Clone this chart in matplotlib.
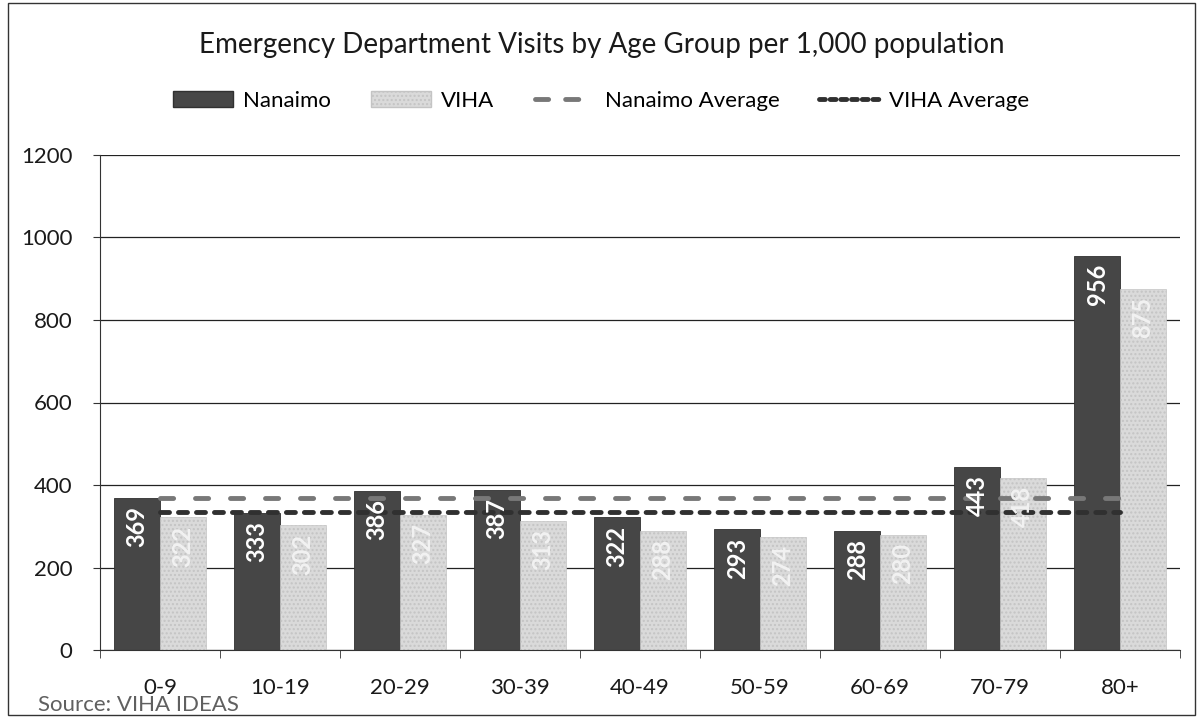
import numpy as np
import matplotlib
matplotlib.use("Agg")
import matplotlib.pyplot as plt
from matplotlib.patches import Rectangle, Patch
from matplotlib.lines import Line2D

plt.rcParams['font.family'] = ['Lato', 'DejaVu Sans']

# --- data ---
age_groups = ["0-9", "10-19", "20-29", "30-39", "40-49", "50-59", "60-69", "70-79", "80+"]
nanaimo = [369, 333, 386, 387, 322, 293, 288, 443, 956]
viha = [322, 302, 327, 313, 288, 274, 280, 418, 875]
nanaimo_avg = 368
viha_avg = 335

fig = plt.figure(figsize=(12.03, 7.17), dpi=100)
ax = fig.add_axes([100 / 1203, 67 / 717, 1080 / 1203, 495 / 717])

x = np.arange(len(age_groups))
w = 0.38
off = 0.19
ax.bar(x - off, nanaimo, width=w, color="#464646", edgecolor="#303030",
       linewidth=0.6, zorder=2)
ax.bar(x + off, viha, width=w, color="#dadada", edgecolor="#c4c4c4",
       linewidth=0.5, hatch="....", zorder=2)

# averages drawn across the categories
ax.hlines(nanaimo_avg, x[0], x[-1], colors="#787878", linewidth=3.5,
          linestyles=(0, (2.7, 4.5)), capstyle="round", zorder=3)
ax.hlines(viha_avg, x[0], x[-1], colors="#303030", linewidth=3.5,
          linestyles=(0, (1.85, 1.85)), capstyle="round", zorder=3)

# value labels
for xi, v in zip(x, nanaimo):
    ax.text(xi - off, v - 20, str(v), rotation=90, ha="center", va="top",
            color="white", fontsize=17, fontweight="bold", zorder=4)
for xi, v in zip(x, viha):
    ax.text(xi + off, v - 20, str(v), rotation=90, ha="center", va="top",
            color="#f2f2f2", fontsize=17, fontweight="bold", zorder=4)

ax.set_xlim(-0.5, len(age_groups) - 0.5)
ax.set_ylim(0, 1200)
ax.set_yticks(range(0, 1201, 200))
ax.yaxis.grid(True, color="#222222", linewidth=0.9, zorder=0)
ax.set_axisbelow(True)

ax.set_xticks(x)
ax.set_xticklabels(age_groups)
ax.set_xticks(np.arange(-0.5, len(age_groups), 1), minor=True)
ax.tick_params(axis="x", which="major", length=0, pad=20, labelsize=16, colors="#1a1a1a")
ax.tick_params(axis="x", which="minor", length=6, direction="out", color="#333333")
ax.tick_params(axis="y", length=5, direction="out", pad=15, labelsize=16,
               colors="#1a1a1a", color="#333333")

for s in ["top", "right"]:
    ax.spines[s].set_visible(False)
ax.spines["left"].set_color("#333333")
ax.spines["bottom"].set_color("#333333")

# title and legend
fig.text(0.5, 1 - 45 / 717, "Emergency Department Visits by Age Group per 1,000 population",
         ha="center", va="center", fontsize=20, color="#1a1a1a")

handles = [
    Patch(facecolor="#464646", edgecolor="#303030"),
    Patch(facecolor="#dadada", edgecolor="#c4c4c4", hatch="...."),
    Line2D([0], [0], color="#787878", linewidth=3.5, linestyle=(0, (2.7, 3.5)),
           dash_capstyle="round"),
    Line2D([0], [0], color="#303030", linewidth=3.5, linestyle=(0, (1.2, 1.0)),
           dash_capstyle="round"),
]
fig.legend(handles, ["Nanaimo", "VIHA", "Nanaimo Average", "VIHA Average"],
           loc="center", bbox_to_anchor=(0.5, 1 - 101 / 717), ncol=4, frameon=False,
           fontsize=16, handlelength=2.7, handletextpad=0.45, columnspacing=1.8)

fig.text(38 / 1203, 1 - 711 / 717, "Source: VIHA IDEAS", ha="left", va="baseline",
         fontsize=16, color="#606060")

fig.patches.append(Rectangle((8 / 1203, 2 / 717), 1187 / 1203, 712 / 717,
                             transform=fig.transFigure, fill=False,
                             edgecolor="#333333", linewidth=1.0))

fig.savefig("out.png", dpi=100)
